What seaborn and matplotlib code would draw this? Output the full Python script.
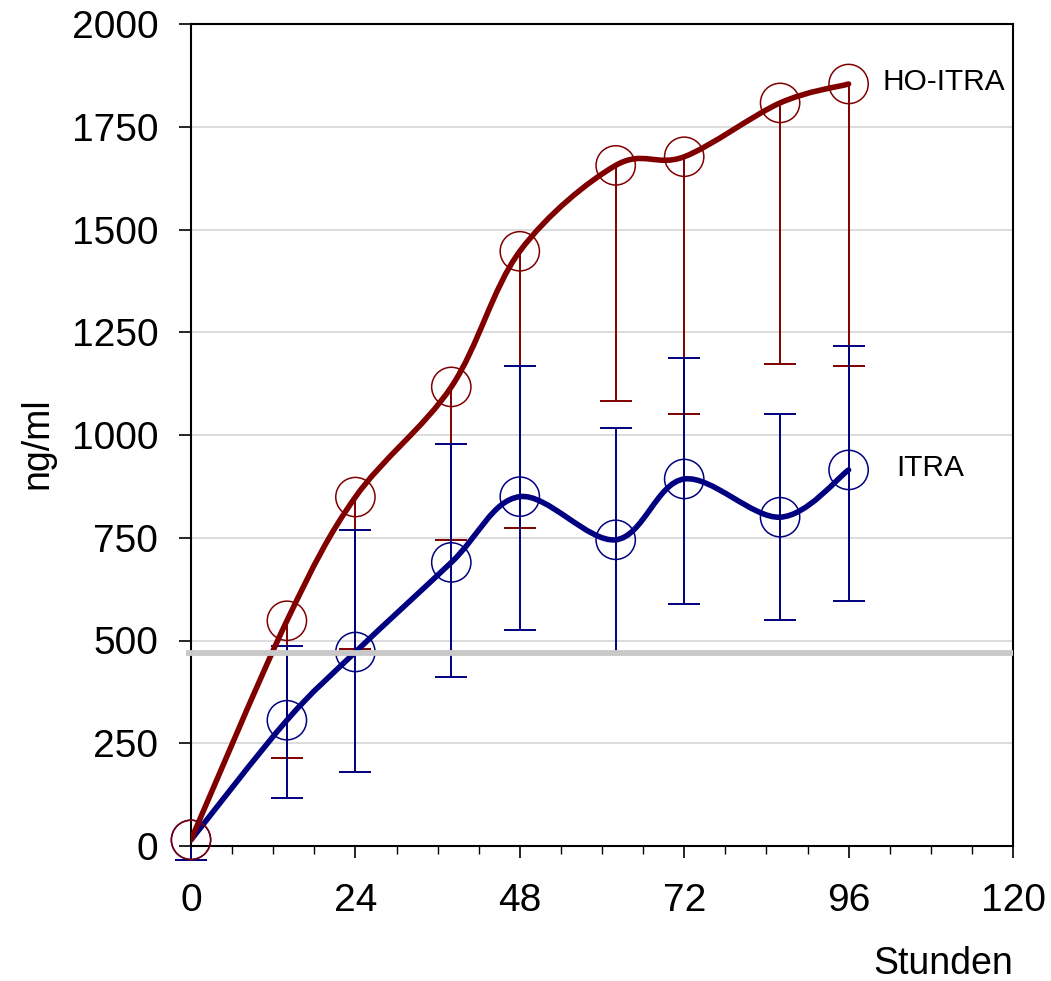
import numpy as np
import pandas as pd
import matplotlib
matplotlib.use("Agg")
import matplotlib.pyplot as plt
import seaborn as sns
from matplotlib.path import Path
from matplotlib.patches import PathPatch
from matplotlib.ticker import MultipleLocator

# ---------------- data ----------------
hours = [0, 14, 24, 38, 48, 62, 72, 86, 96]
ho_itra_mean = [15, 548, 849, 1117, 1447, 1656, 1677, 1808, 1854]
ho_itra_lower = [-35, 215, 480, 745, 774, 1082, 1050, 1172, 1168]
itra_mean = [15, 306, 472, 690, 850, 745, 893, 800, 915]
itra_lower = [-35, 117, 180, 410, 526, 472, 588, 549, 597]
itra_upper = [15, 487, 768, 978, 1169, 1017, 1187, 1050, 1216]
ref_level = 470
x_ticks = [0, 24, 48, 72, 96, 120]
y_ticks = [0, 250, 500, 750, 1000, 1250, 1500, 1750, 2000]
series_labels = ["HO-ITRA", "ITRA"]

RED = "#800000"
BLUE = "#000080"

sns.set_theme(style="white")
plt.rcParams["font.family"] = ["Liberation Sans", "DejaVu Sans"]
plt.rcParams["text.color"] = "black"
plt.rcParams["axes.labelcolor"] = "black"
plt.rcParams["xtick.color"] = "black"
plt.rcParams["ytick.color"] = "black"

fig = plt.figure(figsize=(10.51, 9.81), dpi=100)
ax = fig.add_axes([191 / 1051, 1 - 846 / 981, (1013 - 191) / 1051, (846 - 24) / 981])


def smooth_path(x, y):
    pts = np.column_stack([np.asarray(x, float), np.asarray(y, float)])
    n = len(pts)
    verts = [pts[0]]
    codes = [Path.MOVETO]
    for i in range(n - 1):
        p0 = pts[i - 1] if i > 0 else pts[i]
        p1 = pts[i]
        p2 = pts[i + 1]
        p3 = pts[i + 2] if i + 2 < n else pts[i + 1]
        c1 = p1 + (p2 - p0) / 6.0
        c2 = p2 - (p3 - p1) / 6.0
        verts += [c1, c2, p2]
        codes += [Path.CURVE4] * 3
    return Path(verts, codes)


# error bars
h = np.array(hours)
rm = np.array(ho_itra_mean)
bm = np.array(itra_mean)
eb_r = ax.errorbar(h, rm, yerr=[rm - np.array(ho_itra_lower), np.zeros_like(rm)],
                   fmt="none", ecolor=RED, elinewidth=1.4, capsize=11.5, capthick=1.4,
                   zorder=2)
eb_r[1][1].set_visible(False)
eb_b = ax.errorbar(h, bm, yerr=[bm - np.array(itra_lower), np.array(itra_upper) - bm],
                   fmt="none", ecolor=BLUE, elinewidth=1.4, capsize=11.5, capthick=1.4,
                   zorder=2)
eb_b[1][1].set_markevery(list(range(1, len(hours))))
for art in list(eb_r[1]) + list(eb_r[2]) + list(eb_b[1]) + list(eb_b[2]):
    art.set_clip_on(False)

# smoothed lines
ax.add_patch(PathPatch(smooth_path(hours, itra_mean), facecolor="none",
                       edgecolor=BLUE, lw=4.0, zorder=3, capstyle="round"))
ax.add_patch(PathPatch(smooth_path(hours, ho_itra_mean), facecolor="none",
                       edgecolor=RED, lw=4.0, zorder=4, capstyle="round"))

# markers (ITRA first so HO-ITRA circles sit on top)
df = pd.DataFrame({
    "hours": hours * 2,
    "value": ho_itra_mean + itra_mean,
    "series": [series_labels[0]] * len(hours) + [series_labels[1]] * len(hours),
})
for name, col in zip([series_labels[1], series_labels[0]], [BLUE, RED]):
    sub = df[df["series"] == name]
    sns.scatterplot(data=sub, x="hours", y="value", ax=ax, s=800, marker="o",
                    facecolors="none", edgecolor=col, linewidth=1.1, zorder=5,
                    legend=False)
for coll in ax.collections:
    coll.set_clip_on(False)

# reference band
ax.plot([-0.7, 120], [ref_level, ref_level], color="#c8c8c8", lw=4.2,
        solid_capstyle="butt", zorder=6, clip_on=False)

# series labels
ax.text(100.9, 1859, series_labels[0], fontsize=21.5, ha="left", va="center", color="black")
ax.text(102.9, 920, series_labels[1], fontsize=21.5, ha="left", va="center", color="black")

# axes
ax.set_xlim(0, 120)
ax.set_ylim(0, 2000)
ax.set_xticks(x_ticks)
ax.set_yticks(y_ticks)
ax.xaxis.set_minor_locator(MultipleLocator(6))
ax.yaxis.grid(True, color="#d9d9d9", lw=1.3, zorder=0)
ax.xaxis.grid(False)
ax.set_axisbelow(True)
for sp in ax.spines.values():
    sp.set_visible(True)
    sp.set_color("black")
    sp.set_linewidth(1.5)
ax.tick_params(axis="both", which="major", direction="out", length=8.6, width=1.2,
               color="black", labelsize=28, labelcolor="black")
ax.tick_params(axis="x", which="minor", direction="out", length=5.8, width=1.0,
               color="black", bottom=True)
ax.tick_params(axis="x", which="major", pad=18, bottom=True)
ax.tick_params(axis="y", which="major", pad=15, left=True)

ax.set_xlabel("Stunden", fontsize=27, color="black")
ax.xaxis.set_label_coords(1.0, -0.1557)
ax.xaxis.label.set_ha("right")
ax.xaxis.label.set_va("baseline")
ax.set_ylabel("ng/ml", fontsize=27, color="black")
ax.yaxis.set_label_coords(-0.187, 0.49)
ax.yaxis.label.set_va("center")

fig.savefig("out.png", dpi=100, facecolor="white")
